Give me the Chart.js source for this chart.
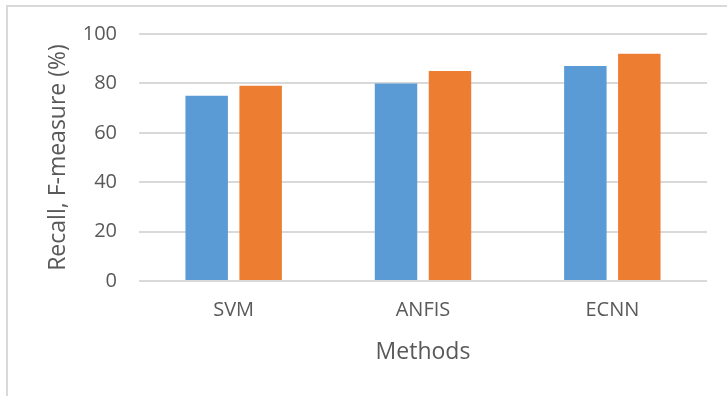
<!DOCTYPE html>
<html>
<head>
<meta charset="utf-8">
<script src="https://cdn.jsdelivr.net/npm/chart.js@4.4.1/dist/chart.umd.min.js"></script>
<style>
  html, body { margin: 0; padding: 0; background: #fff; }
  #wrap { position: relative; width: 727px; height: 396px; overflow: hidden; background: #fff; }
  #frame { position: absolute; left: 6px; top: 5px; width: 800px; height: 500px;
           border-left: 2px solid #d9d9d9; border-top: 2px solid #d9d9d9; box-sizing: border-box; }
  canvas { position: absolute; left: 0; top: 0; }
</style>
</head>
<body>
<div id="wrap">
  <div id="frame"></div>
  <canvas id="c" width="727" height="396"></canvas>
</div>
<script>
// Methods compared and their scores (%)
const methods = ['SVM', 'ANFIS', 'ECNN'];
const recall = [75, 80, 87];
const fMeasure = [79, 85, 92];
const yTicks = [0, 20, 40, 60, 80, 100];

const FONT = '"Open Sans", "Liberation Sans", sans-serif';
const TEXT = '#595959';

new Chart(document.getElementById('c'), {
  type: 'bar',
  data: {
    labels: methods,
    datasets: [
      { label: 'Recall', data: recall, backgroundColor: '#5B9BD5', borderWidth: 0 },
      { label: 'F-measure', data: fMeasure, backgroundColor: '#ED7D31', borderWidth: 0 }
    ]
  },
  options: {
    responsive: false,
    animation: false,
    events: [],
    layout: { padding: { left: 0, right: 20, top: 34, bottom: 0 } },
    datasets: { bar: { categoryPercentage: 0.57, barPercentage: 0.787 } },
    plugins: { legend: { display: false }, tooltip: { enabled: false } },
    scales: {
      x: {
        grid: { display: false, drawTicks: false },
        border: { display: false },
        ticks: { color: TEXT, font: { family: FONT, size: 20 }, padding: 17 },
        title: { display: true, text: 'Methods', color: TEXT,
                 font: { family: FONT, size: 23 }, padding: { top: 0, bottom: 30 } },
        afterFit: (s) => { s.height = 115; }
      },
      y: {
        min: 0, max: 100,
        afterBuildTicks: (s) => { s.ticks = yTicks.map(v => ({ value: v })); },
        grid: { color: '#d9d9d9', lineWidth: 2, drawTicks: false },
        border: { display: false },
        ticks: { color: TEXT, font: { family: FONT, size: 20 }, padding: 22 },
        title: { display: true, text: 'Recall, F-measure (%)', color: TEXT,
                 font: { family: FONT, size: 23 }, padding: { top: 45, bottom: 0 } },
        afterFit: (s) => { s.width = 139; }
      }
    }
  }
});
</script>
</body>
</html>
